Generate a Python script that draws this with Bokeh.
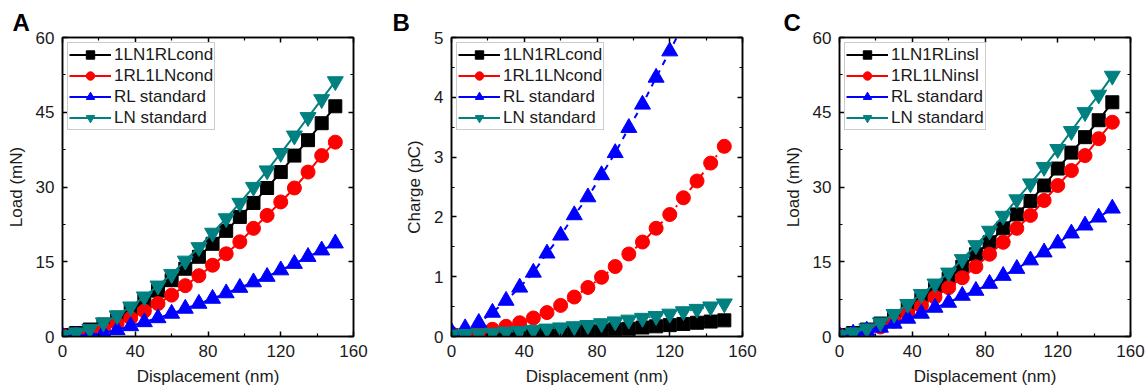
from bokeh.plotting import figure
from bokeh.models import (FixedTicker, LinearAxis, Range1d, Legend, LegendItem,
                          ColumnDataSource, CustomJSTickFormatter)
from bokeh.layouts import row
from bokeh.embed import file_html
from bokeh.resources import INLINE

# ---------------- data ----------------
displacement = [0, 7.5, 15, 22.5, 30, 37.5, 45, 52.5, 60, 67.5, 75, 82.5, 90,
                97.5, 105, 112.5, 120, 127.5, 135, 142.5, 150]

# Panel A: Load (mN)
a_1ln1rl_cond = [0.3, 0.7, 1.4, 2.4, 3.8, 5.4, 7.2, 9.2, 11.3, 13.6, 16.0, 18.6, 21.2,
                 24.0, 26.8, 29.8, 33.0, 36.3, 39.4, 42.8, 46.2]
a_1rl1ln_cond = [0.2, 0.4, 0.9, 1.6, 2.6, 3.7, 5.1, 6.6, 8.3, 10.2, 12.2, 14.3, 16.6,
                 19.0, 21.7, 24.3, 27.0, 29.8, 33.0, 36.3, 39.0]
a_rl_standard = [0.1, 0.2, 0.3, 0.7, 1.3, 2.1, 2.9, 3.7, 4.6, 5.6, 6.6, 7.6, 8.7,
                 9.8, 10.9, 12.0, 13.3, 14.6, 16.0, 17.3, 18.7]
a_ln_standard = [0.3, 0.8, 1.5, 2.8, 4.2, 6.0, 8.0, 10.2, 12.5, 15.2, 17.9, 20.8, 23.7,
                 26.8, 30.0, 33.3, 36.8, 40.3, 44.0, 47.6, 51.2]

# Panel B: Charge (pC)
b_1ln1rl_cond = [0.02, 0.02, 0.03, 0.03, 0.04, 0.04, 0.05, 0.06, 0.07, 0.08, 0.09, 0.10,
                 0.12, 0.13, 0.15, 0.17, 0.19, 0.21, 0.23, 0.25, 0.27]
b_1rl1ln_cond = [0.05, 0.06, 0.08, 0.12, 0.17, 0.23, 0.31, 0.40, 0.52, 0.66, 0.82, 0.99,
                 1.17, 1.38, 1.58, 1.81, 2.04, 2.32, 2.60, 2.90, 3.18]
b_rl_standard = [0.08, 0.14, 0.23, 0.40, 0.60, 0.82, 1.07, 1.39, 1.69, 2.03, 2.33, 2.70,
                 3.07, 3.49, 3.88, 4.33, 4.77, 5.22]
b_ln_standard = [0.03, 0.04, 0.05, 0.06, 0.08, 0.09, 0.11, 0.13, 0.15, 0.17, 0.19, 0.22,
                 0.25, 0.28, 0.31, 0.34, 0.38, 0.42, 0.46, 0.50, 0.55]

# Panel C: Load (mN)
c_1ln1rl_insl = [0.3, 0.7, 1.4, 2.6, 4.0, 5.7, 7.5, 9.5, 11.6, 14.0, 16.5, 18.9, 21.7,
                 24.5, 27.2, 30.3, 33.7, 36.9, 40.0, 43.4, 47.0]
c_1rl1ln_insl = [0.2, 0.5, 1.0, 1.9, 3.1, 4.5, 6.1, 7.9, 9.8, 11.8, 14.0, 16.5, 18.9,
                 21.7, 24.3, 27.3, 30.3, 33.3, 36.3, 39.7, 43.0]
c_rl_standard = [0.2, 0.6, 1.2, 1.8, 2.6, 3.6, 4.6, 5.8, 6.8, 8.2, 9.2, 10.6, 12.2,
                 13.6, 15.3, 16.9, 18.7, 20.7, 22.3, 23.9, 25.7]
c_ln_standard = [0.3, 0.8, 1.6, 2.8, 4.5, 6.5, 8.5, 10.6, 12.8, 15.5, 18.3, 21.2, 24.2,
                 27.5, 30.7, 34.0, 37.6, 41.2, 45.0, 48.5, 52.3]

labels_a = ["1LN1RLcond", "1RL1LNcond", "RL standard", "LN standard"]
labels_b = ["1LN1RLcond", "1RL1LNcond", "RL standard", "LN standard"]
labels_c = ["1LN1RLinsl", "1RL1LNinsl", "RL standard", "LN standard"]

x_major = [0, 40, 80, 120, 160]
x_minor = [20, 60, 100, 140]
load_major = [0, 15, 30, 45, 60]
load_minor = [7.5, 22.5, 37.5, 52.5]
charge_major = [0, 1, 2, 3, 4, 5]
charge_minor = [0.5, 1.5, 2.5, 3.5, 4.5]

# ---------------- styling ----------------
FONT = "Liberation Sans"
TXT = "#1a1a1a"
colors = ["#000000", "#ff0000", "#0000ff", "#008080"]
markers = ["square", "circle", "triangle", "inverted_triangle"]
msizes = [13, 14, 16, 16]


def style_axis(ax, major, minor, show_labels=True):
    ax.ticker = FixedTicker(ticks=major, minor_ticks=minor)
    ax.major_tick_in = 5
    ax.major_tick_out = 0
    ax.minor_tick_in = 3
    ax.minor_tick_out = 0
    ax.axis_line_width = 1.5
    ax.major_tick_line_width = 1.5
    ax.minor_tick_line_width = 1.2
    ax.axis_line_color = "black"
    ax.major_tick_line_color = "black"
    ax.minor_tick_line_color = "black"
    ax.major_label_text_font = FONT
    ax.major_label_text_font_size = "17px"
    ax.major_label_text_color = TXT
    ax.axis_label_text_font = FONT
    ax.axis_label_text_font_size = "17px"
    ax.axis_label_text_font_style = "normal"
    ax.axis_label_text_color = TXT
    if show_labels:
        ax.major_label_standoff = 8
        ax.axis_label_standoff = 7
    else:
        ax.formatter = CustomJSTickFormatter(code="return ''")
        ax.major_label_standoff = 0


def make_panel(letter, letter_dx, ylabel, y_end, y_major, y_minor, series, labels,
               dashes, width, left, right):
    p = figure(width=width, height=392, x_range=Range1d(0, 160), y_range=Range1d(0, y_end),
               output_backend="svg", toolbar_location=None,
               min_border_left=left, min_border_right=right,
               min_border_top=37, min_border_bottom=56)
    p.extra_y_ranges = {"legend_only": Range1d(-1000, -999)}
    p.xgrid.visible = False
    p.ygrid.visible = False
    p.outline_line_color = "black"
    p.outline_line_width = 1.5
    p.background_fill_color = "white"
    p.border_fill_color = "white"

    p.title.text = letter
    p.title.align = "left"
    p.title.offset = letter_dx
    p.title.standoff = 3
    p.title.text_font = FONT
    p.title.text_font_size = "24px"
    p.title.text_font_style = "bold"
    p.title.text_color = "black"

    p.xaxis.axis_label = "Displacement (nm)"
    p.yaxis.axis_label = ylabel
    style_axis(p.xaxis[0], x_major, x_minor)
    style_axis(p.yaxis[0], y_major, y_minor)
    top = LinearAxis()
    style_axis(top, x_major, x_minor, show_labels=False)
    p.add_layout(top, "above")
    rgt = LinearAxis()
    style_axis(rgt, y_major, y_minor, show_labels=False)
    p.add_layout(rgt, "right")

    items = []
    for vals, lab, col, mk, ms, dash in zip(series, labels, colors, markers, msizes, dashes):
        xs = displacement[:len(vals)]
        src = ColumnDataSource(dict(x=xs, y=vals))
        ln = p.line("x", "y", source=src, line_color=col, line_width=2, line_dash=dash)
        sc = p.scatter("x", "y", source=src, marker=mk, size=ms, fill_color=col,
                       line_color=col, line_width=1)
        if dash == "solid":
            items.append(LegendItem(label=lab, renderers=[ln, sc]))
        else:
            # solid line used only as the legend swatch (drawn on an off-frame range)
            leg_ln = p.line("x", "y", source=src, line_color=col, line_width=2,
                            y_range_name="legend_only")
            items.append(LegendItem(label=lab, renderers=[leg_ln, sc]))

    legend = Legend(items=items, location="top_left")
    legend.margin = 5
    legend.padding = 1
    legend.spacing = 0
    legend.label_height = 21
    legend.glyph_height = 21
    legend.glyph_width = 42
    legend.label_standoff = 3
    legend.label_text_font = FONT
    legend.label_text_font_size = "17px"
    legend.label_text_color = TXT
    legend.border_line_color = "#9a9a9a"
    legend.border_line_width = 1
    legend.background_fill_color = "white"
    legend.background_fill_alpha = 1
    p.add_layout(legend, "center")
    return p


pa = make_panel("A", -50, "Load (mN)", 60, load_major, load_minor,
                [a_1ln1rl_cond, a_1rl1ln_cond, a_rl_standard, a_ln_standard], labels_a,
                ["solid", "solid", "solid", "solid"], 385, 62, 32)
pb = make_panel("B", -59, "Charge (pC)", 5, charge_major, charge_minor,
                [b_1ln1rl_cond, b_1rl1ln_cond, b_rl_standard, b_ln_standard], labels_b,
                ["dotted", "dashdot", "dashed", "dotted"], 385, 66, 28)
pc = make_panel("C", -56, "Load (mN)", 60, load_major, load_minor,
                [c_1ln1rl_insl, c_1rl1ln_insl, c_rl_standard, c_ln_standard], labels_c,
                ["solid", "solid", "solid", "solid"], 378, 69, 18)

layout = row(pa, pb, pc, spacing=0)
open("out.html", "w").write(file_html(layout, INLINE))
